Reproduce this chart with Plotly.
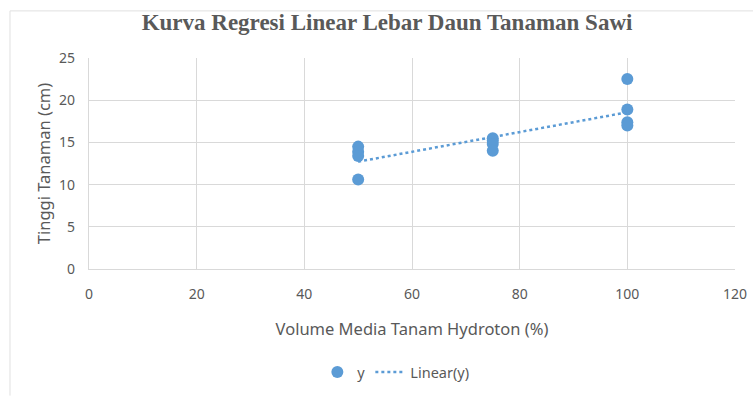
import numpy as np
import plotly.graph_objects as go

x_vals = [50, 50, 50, 50, 75, 75, 75, 75, 100, 100, 100, 100]
y_vals = [14.5, 13.9, 13.4, 10.6, 15.5, 15.2, 14.8, 14.0, 22.5, 18.9, 17.4, 17.0]
x_ticks = [0, 20, 40, 60, 80, 100, 120]
y_ticks = [0, 5, 10, 15, 20, 25]

slope, intercept = np.polyfit(x_vals, y_vals, 1)
trend_x = [min(x_vals), max(x_vals)]
trend_y = [slope * v + intercept for v in trend_x]

blue = "#5b9bd5"
gray_text = "#595959"
grid = "#d9d9d9"

fig = go.Figure()
fig.add_trace(go.Scatter(x=x_vals, y=y_vals, mode="markers", name="y",
                         marker=dict(color=blue, size=12)))
fig.add_trace(go.Scatter(x=trend_x, y=trend_y, mode="lines", name="Linear(y)",
                         line=dict(color=blue, width=2.5, dash="dot")))

fig.update_layout(
    width=753, height=400,
    margin=dict(l=89, r=18, t=58, b=127),
    paper_bgcolor="white", plot_bgcolor="white",
    font=dict(family="Noto Sans", color=gray_text, size=13),
    title=dict(text="<b>Kurva Regresi Linear Lebar Daun Tanaman Sawi</b>",
               font=dict(family="Liberation Serif", size=23, color=gray_text),
               x=0.514, xanchor="center", y=0.945, yanchor="middle"),
    xaxis=dict(range=[0, 120], tickvals=x_ticks, showgrid=True, gridcolor=grid,
               gridwidth=1.3, zeroline=False, showline=True, linecolor=grid,
               linewidth=1.3, ticks="", ticklabelstandoff=12, automargin=False,
               tickfont=dict(size=14, color=gray_text),
               title=dict(text="Volume Media Tanam Hydroton (%)", standoff=21,
                          font=dict(size=16.5, color=gray_text))),
    yaxis=dict(range=[0, 25], tickvals=y_ticks, showgrid=True, gridcolor=grid,
               gridwidth=1.3, zeroline=False, showline=True, linecolor=grid,
               linewidth=1.3, ticks="", ticklabelstandoff=10, automargin=False,
               tickfont=dict(size=14, color=gray_text),
               title=dict(text="Tinggi Tanaman (cm)", standoff=4,
                          font=dict(size=16.5, color=gray_text))),
    legend=dict(orientation="h", x=0.475, xanchor="center", y=-0.488, yanchor="middle",
                font=dict(size=14.5, color=gray_text), itemwidth=30),
    shapes=[
        dict(type="line", xref="paper", yref="paper", x0=-0.1223, x1=-0.1223,
             y0=-0.6, y1=1.2233, line=dict(color="#e0e0e0", width=1)),
        dict(type="line", xref="paper", yref="paper", x0=-0.1223, x1=1.03,
             y0=1.2233, y1=1.2233, line=dict(color="#e0e0e0", width=1)),
    ],
)

fig.write_html("out.html", config={"displayModeBar": False},
               post_script="document.body.style.margin='0';document.body.style.overflow='hidden';")
